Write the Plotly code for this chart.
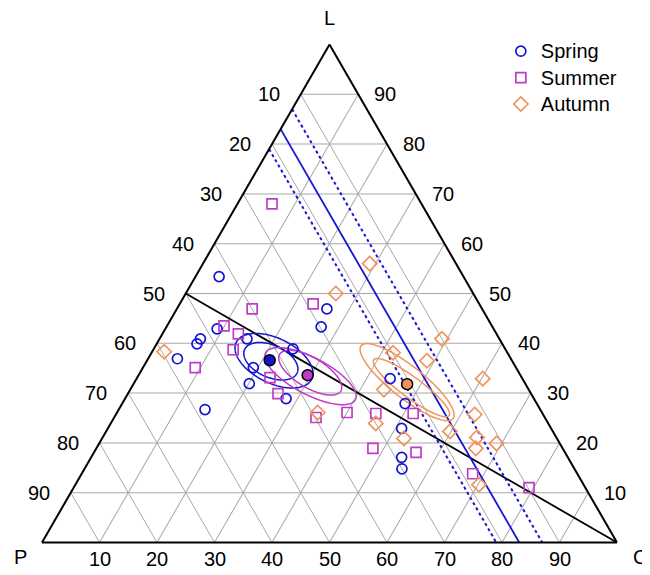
import numpy as np
import plotly.graph_objects as go

# ---------------- data (percent: L, P, C) ----------------
spring_L = [53.4, 46.9, 43.3, 42.9, 40.9, 40.9, 39.9, 36.9, 38.9, 35.1, 31.9, 28.9, 26.7, 32.9, 27.9, 22.9, 17.1, 14.8]
spring_P = [42.5, 27.0, 29.8, 48.1, 43.9, 52.0, 53.1, 58.0, 36.9, 45.7, 48.0, 43.1, 58.3, 23.0, 22.9, 26.0, 28.9, 30.0]
spring_C = [4.1, 26.1, 26.9, 9.0, 15.2, 7.1, 7.0, 5.1, 24.2, 19.2, 20.1, 28.0, 15.0, 44.1, 49.2, 51.1, 54.0, 55.2]

summer_L = [68.0, 47.9, 46.9, 43.5, 41.9, 38.7, 35.1, 33.1, 29.9, 26.1, 25.1, 25.9, 25.9, 18.9, 18.1, 13.8, 11.0]
summer_P = [26.0, 28.9, 40.0, 46.6, 44.9, 47.4, 55.8, 43.8, 44.0, 33.9, 39.8, 29.0, 22.5, 33.0, 25.9, 18.2, 9.8]
summer_C = [6.0, 23.2, 13.1, 9.9, 13.2, 13.9, 9.1, 23.1, 26.1, 40.0, 35.1, 45.1, 51.6, 48.1, 56.0, 68.0, 79.2]

autumn_L = [56.0, 50.0, 38.3, 26.1, 40.9, 36.5, 38.1, 32.9, 30.7, 25.7, 23.9, 22.3, 21.1, 19.9, 20.9, 18.9, 11.6]
autumn_P = [15.0, 23.9, 59.6, 39.0, 10.0, 14.8, 19.9, 6.9, 25.2, 11.9, 30.0, 17.9, 13.8, 11.0, 26.6, 15.1, 18.2]
autumn_C = [29.0, 26.1, 2.1, 34.9, 49.1, 48.7, 42.0, 60.2, 44.1, 62.4, 46.1, 59.8, 65.1, 69.1, 52.5, 66.0, 70.2]

seasons = ["Spring", "Summer", "Autumn"]
mean_L = [36.6, 33.6, 31.8]
mean_P = [42.1, 37.0, 20.6]
mean_C = [21.3, 29.4, 47.6]

# confidence ellipses: centre (L, P, C), semi-axes (percent units), tilt (deg)
ell_season = ["Spring", "Spring", "Summer", "Summer", "Autumn", "Autumn"]
ell_L = [36.5, 36.4, 33.4, 34.1, 32.2, 31.1]
ell_P = [41.4, 42.0, 36.6, 36.3, 20.4, 20.2]
ell_C = [22.1, 21.6, 30.0, 29.6, 47.4, 48.7]
ell_a = [7.3, 5.0, 8.8, 6.2, 10.2, 8.15]
ell_b = [3.9, 2.8, 3.2, 2.6, 2.8, 1.8]
ell_ang = [-26, -24, -27.6, -31, -38.4, -36.6]

# reference lines (constant P) and L = P line
p_line_mid = 17
p_line_band = [21, 13]
ticks = [10, 20, 30, 40, 50, 60, 70, 80, 90]
vertex_names = ["L", "P", "C"]

colors = {"Spring": "#1414D2", "Summer": "#BE3CC8", "Autumn": "#F0945A"}
symbols = {"Spring": "circle-open", "Summer": "square-open", "Autumn": "diamond-open"}
sizes = {"Spring": 10, "Summer": 10, "Autumn": 11}

SQ3 = np.sqrt(3)

# figure geometry (page body has an 8px margin, compensated in the margins)
W, H = 650, 575
ML, MR, MT, MB = 34, 41, 36, 40
PW, PH = W - ML - MR, H - MT - MB


def ellipse(Lc, Pc, Cc, a, b, ang, n=200):
    cx = Cc + Lc / 2
    cy = Lc * SQ3 / 2
    t = np.linspace(0, 2 * np.pi, n)
    th = np.deg2rad(ang)
    x = cx + a * np.cos(th) * np.cos(t) - b * np.sin(th) * np.sin(t)
    y = cy + a * np.sin(th) * np.cos(t) + b * np.cos(th) * np.sin(t)
    L = y * 2 / SQ3
    C = x - L / 2
    P = 100 - L - C
    return L, P, C


# ternary -> paper coordinates (same placement rule plotly uses for the ternary)
if PW * SQ3 > PH * 2:
    TH = PH
    TW = TH * 2 / SQ3
else:
    TW = PW
    TH = TW * SQ3 / 2
TX0 = (PW - TW) / 2
TY0 = (PH - TH) / 2


def tern_paper(L, C, dx_px=0.0, dy_px=0.0):
    xu = (C + L / 2) / 100.0
    yu = L / 100.0
    xp = TX0 + xu * TW + dx_px
    yp = TY0 + yu * TH + dy_px
    return xp / PW, yp / PH


fig = go.Figure()

# L = P line
fig.add_trace(go.Scatterternary(a=[50, 0], b=[50, 0], c=[0, 100], mode="lines",
                                line=dict(color="black", width=1.8), showlegend=False, hoverinfo="skip"))
# constant-P lines
fig.add_trace(go.Scatterternary(a=[100 - p_line_mid, 0], b=[p_line_mid, p_line_mid], c=[0, 100 - p_line_mid],
                                mode="lines", line=dict(color="#1414D2", width=1.8), showlegend=False,
                                hoverinfo="skip"))
for pv in p_line_band:
    fig.add_trace(go.Scatterternary(a=[100 - pv, 0], b=[pv, pv], c=[0, 100 - pv],
                                    mode="lines", line=dict(color="#1414D2", width=2, dash="dot"),
                                    showlegend=False, hoverinfo="skip"))

# ellipses
for s, Lc, Pc, Cc, a, b, ang in zip(ell_season, ell_L, ell_P, ell_C, ell_a, ell_b, ell_ang):
    L, P, C = ellipse(Lc, Pc, Cc, a, b, ang)
    fig.add_trace(go.Scatterternary(a=L, b=P, c=C, mode="lines", line=dict(color=colors[s], width=1.5),
                                    showlegend=False, hoverinfo="skip"))

# points
for s, (L, P, C) in zip(seasons, [(spring_L, spring_P, spring_C), (summer_L, summer_P, summer_C),
                                  (autumn_L, autumn_P, autumn_C)]):
    fig.add_trace(go.Scatterternary(a=L, b=P, c=C, mode="markers",
                                    name="<span style='font-size:20px'>%s</span>" % s,
                                    marker=dict(symbol=symbols[s], size=sizes[s], color=colors[s],
                                                line=dict(width=1.7, color=colors[s]))))

# means
for i, s in enumerate(seasons):
    fig.add_trace(go.Scatterternary(a=[mean_L[i]], b=[mean_P[i]], c=[mean_C[i]], mode="markers",
                                    marker=dict(symbol="circle", size=11, color=colors[s],
                                                line=dict(width=1.5, color="black")),
                                    showlegend=False, hoverinfo="skip"))

# tick labels (left: P, bottom: C, right: L) and vertex names as annotations
FONT = dict(family="Liberation Sans, Arial, sans-serif", size=20, color="black")
ann = []
for k in ticks:
    x, y = tern_paper(100 - k, 0, dx_px=-32)          # left edge, P = k
    ann.append(dict(x=x, y=y, text=str(k)))
    x, y = tern_paper(k, 100 - k, dx_px=27)           # right edge, L = k
    ann.append(dict(x=x, y=y, text=str(k)))
    x, y = tern_paper(0, k, dy_px=-17)                # bottom edge, C = k
    ann.append(dict(x=x, y=y, text=str(k)))
for name, (Lv, Cv, dx, dy) in zip(vertex_names, [(100, 0, 0, 27), (0, 0, -22, -15), (0, 100, 23, -15)]):
    x, y = tern_paper(Lv, Cv, dx_px=dx, dy_px=dy)
    ann.append(dict(x=x, y=y, text=name))
annotations = [dict(a, xref="paper", yref="paper", showarrow=False, xanchor="center", yanchor="middle",
                    font=FONT) for a in ann]

ax = dict(min=0, showticklabels=False, ticks="", showgrid=True, gridcolor="#A8A8A8", gridwidth=1,
          linecolor="black", linewidth=2, tickmode="linear", tick0=0, dtick=10, title=dict(text=""))

fig.update_layout(
    width=W, height=H,
    margin=dict(l=ML, r=MR, t=MT, b=MB, autoexpand=False),
    paper_bgcolor="white",
    ternary=dict(sum=100, aaxis=ax, baxis=ax, caxis=ax, bgcolor="white",
                 domain=dict(x=[0, 1], y=[0, 1])),
    legend=dict(x=0.798, y=1.022, xanchor="left", yanchor="top", bgcolor="rgba(0,0,0,0)",
                font=dict(family="Liberation Sans, Arial, sans-serif", size=18, color="black")),
    showlegend=True,
    annotations=annotations,
)

fig.write_html("out.html")
